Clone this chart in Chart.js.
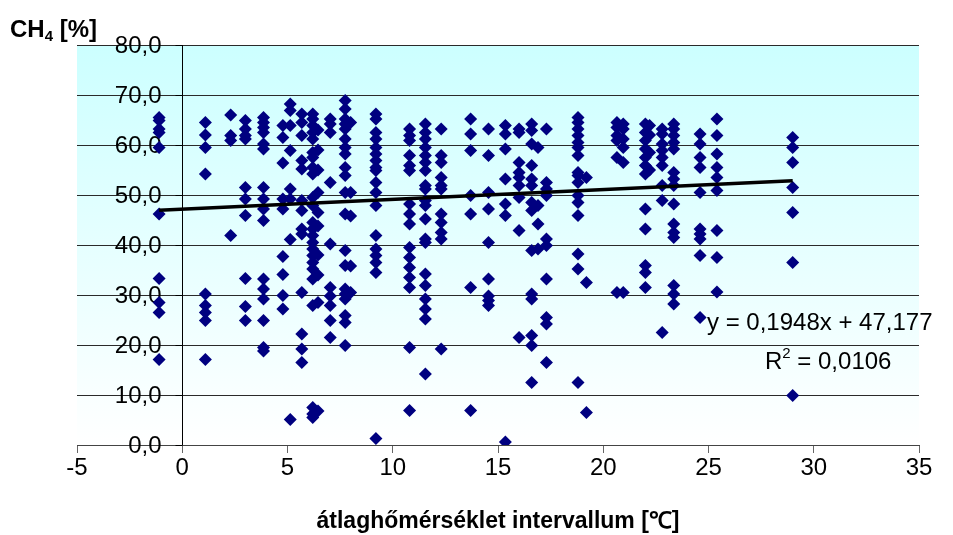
<!DOCTYPE html>
<html>
<head>
<meta charset="utf-8">
<script src="https://cdn.jsdelivr.net/npm/chart.js@4.4.1/dist/chart.umd.min.js"></script>
<style>
  html, body { margin: 0; padding: 0; background: #fff; }
  #wrap { width: 953px; height: 535px; }
</style>
</head>
<body>
<div id="wrap"><canvas id="ch4Chart" width="953" height="535"></canvas></div>
<script>
// temperature classes (x) and the CH4 readings measured in each class
const tempClasses = [-1.1, 1.1, 2.3, 3.0, 3.86, 4.78, 5.13, 5.68, 6.2, 6.45, 7.03, 7.74, 8.0,
  9.2, 10.8, 11.55, 12.3, 13.7, 14.55, 15.35, 16.0, 16.6, 16.9, 17.3, 18.8, 19.2,
  20.65, 20.95, 22.0, 22.2, 22.8, 23.35, 24.6, 25.4, 29.0];

const ch4Values = [
  [65.5, 64.9, 63.2, 62.5, 59.5, 46.2, 33.3, 28.5, 26.5, 17.1],
  [64.5, 62, 59.5, 54.2, 30.2, 27.9, 26.5, 24.9, 17.1],
  [66, 61.9, 60.9, 41.9],
  [64.9, 63.2, 61.9, 61.2, 51.5, 49.2, 45.9, 33.3, 27.7, 24.9],
  [65.5, 64.5, 63.5, 62.5, 60.2, 59.2, 51.5, 49.2, 47.2, 44.9, 33.2, 31.2, 29.2, 24.9, 19.5, 18.8],
  [63.9, 61.5, 56.4, 49.2, 47.2, 37.7, 34.1, 29.9, 27.2],
  [68.2, 66.9, 63.9, 58.9, 51.2, 49.2, 41.1, 5.1],
  [66.2, 64.5, 61.9, 56.9, 55.2, 48.9, 46.9, 43.2, 42.2, 30.5, 22.2, 19.2, 16.5],
  [66.2, 65.2, 63.9, 62.5, 61.2, 58.5, 57.5, 55.5, 54.2, 49.5, 47.9, 44.5, 43.2, 41.9, 40.5, 39.2, 37.9, 36.5, 35.2, 33.2, 27.9, 7.5, 6.2, 5.5],
  [63, 59, 55, 50.5, 46.5, 43.8, 38, 34, 28.5, 6.8],
  [65.2, 64.2, 62.5, 52.5, 40.2, 31.5, 29.8, 27.9, 24.9, 21.5],
  [68.9, 67.2, 65.2, 64.2, 63.2, 61.2, 59.5, 58.2, 55.5, 53.9, 50.5, 46.2, 38.9, 35.9, 31.2, 30.2, 29.2, 25.9, 24.5, 19.9],
  [64.5, 50.5, 45.8, 35.8, 30.5],
  [66.2, 65.2, 62.5, 61.2, 59.5, 58.2, 56.9, 55.5, 54.9, 52.5, 50.5, 47.9, 41.9, 39.2, 37.9, 36.5, 34.5, 1.3],
  [63.2, 61.9, 60.9, 57.9, 55.9, 54.9, 48.2, 46.2, 44.2, 39.5, 37.5, 35.5, 33.5, 31.5, 19.5, 6.9],
  [64.2, 62.5, 61.2, 59.5, 57.9, 56.5, 54.9, 51.9, 51.2, 48.9, 47.9, 45.2, 41.2, 40.5, 34.2, 31.9, 29.2, 27.2, 25.2, 14.2],
  [63.2, 57.9, 56.5, 53.5, 51.9, 51.2, 46.2, 44.5, 42.5, 41.2, 19.2],
  [65.2, 62.2, 58.9, 49.9, 46.2, 31.5, 6.9],
  [63.2, 57.9, 50.5, 47.2, 40.5, 33.2, 29.8, 28.9, 27.9],
  [63.9, 62.2, 59.2, 53.2, 48.2, 45.9, 0.6],
  [63.2, 62.5, 56.5, 54.5, 53.5, 51.9, 49.5, 42.9, 21.5],
  [64.2, 62.9, 60.2, 55.9, 53.2, 51.9, 48.5, 46.9, 38.9, 30.2, 29.2, 21.9, 19.9, 12.5],
  [59.5, 47.9, 44.2, 39.2],
  [63.2, 52.5, 51.2, 49.9, 41.2, 39.9, 33.2, 25.5, 24.2, 16.5],
  [65.5, 64.5, 63.2, 61.9, 60.5, 59.5, 57.9, 54.5, 53.9, 52.5, 49.9, 48.5, 45.9, 38.2, 35.2, 12.5],
  [53.5, 32.5, 6.5],
  [64.5, 63.5, 61.9, 60.9, 57.5, 30.5],
  [64.2, 63.2, 61.2, 59.5, 56.5, 30.5],
  [64.2, 62.5, 60.9, 59.2, 57.5, 55.9, 54.2, 47.2, 43.2, 35.9, 34.5, 31.5],
  [63.9, 62, 58.5, 55],
  [63.2, 62.2, 60.2, 58.9, 57.5, 55.9, 51.9, 48.9, 22.5],
  [64.2, 63.2, 61.9, 60.5, 59.2, 54.5, 53.2, 51.9, 48.2, 44.2, 42.5, 41.5, 31.9, 30.2, 28.2],
  [62.2, 60.2, 57.5, 55.5, 50.5, 43.2, 42.2, 41.2, 37.9, 25.5],
  [65.2, 61.9, 58.2, 55.5, 53.5, 50.9, 42.9, 37.5, 30.6],
  [61.5, 59.5, 56.5, 51.5, 46.5, 36.5, 9.9]
];

// linear trendline as printed on the chart
const trendSlope = 0.1948;
const trendIntercept = 47.177;
const trendRange = [-1.1, 29.0];

const xTicks = { min: -5, max: 35, step: 5 };
const yTicks = { min: 0, max: 80, step: 10 };

const points = [];
tempClasses.forEach(function (x, i) {
  ch4Values[i].forEach(function (y) { points.push({ x: x, y: y }); });
});
const trendPoints = trendRange.map(function (x) {
  return { x: x, y: trendSlope * x + trendIntercept };
});

const FONT = '"Liberation Sans", Arial, sans-serif';

// cyan -> white plot background
const plotBackground = {
  id: 'plotBackground',
  beforeDraw(chart) {
    const { ctx, chartArea: a } = chart;
    const g = ctx.createLinearGradient(0, a.top, 0, a.bottom);
    g.addColorStop(0, 'rgb(204,255,255)');
    g.addColorStop(1, 'rgb(255,255,255)');
    ctx.save();
    ctx.fillStyle = g;
    ctx.fillRect(a.left, a.top, a.right - a.left, a.bottom - a.top);
    ctx.restore();
  }
};

// y axis crosses at x = 0, labels right aligned next to it
const yAxisAtZero = {
  id: 'yAxisAtZero',
  beforeDatasetsDraw(chart) {
    const { ctx, chartArea: a, scales } = chart;
    const x0 = Math.round(scales.x.getPixelForValue(0)) + 0.5;
    ctx.save();
    ctx.strokeStyle = '#000';
    ctx.lineWidth = 1;
    ctx.beginPath();
    ctx.moveTo(x0, a.top);
    ctx.lineTo(x0, a.bottom);
    ctx.stroke();
    ctx.font = '24px ' + FONT;
    ctx.fillStyle = '#000';
    ctx.textAlign = 'right';
    ctx.textBaseline = 'middle';
    scales.y.ticks.forEach(function (t) {
      const py = Math.round(scales.y.getPixelForValue(t.value)) + 0.5;
      ctx.beginPath();
      ctx.moveTo(x0 - 7, py);
      ctx.lineTo(x0, py);
      ctx.stroke();
      ctx.fillText(t.value.toFixed(1).replace('.', ','), x0 - 21, py + 1);
    });
    ctx.restore();
  }
};

const annotations = {
  id: 'annotations',
  afterDraw(chart) {
    const ctx = chart.ctx;
    ctx.save();
    ctx.fillStyle = '#000';
    ctx.textBaseline = 'alphabetic';
    ctx.textAlign = 'left';
    // axis title top-left
    ctx.font = 'bold 24px ' + FONT;
    ctx.fillText('CH', 10, 37);
    let w = ctx.measureText('CH').width;
    ctx.font = 'bold 15px ' + FONT;
    ctx.fillText('4', 10 + w, 41);
    const w4 = ctx.measureText('4').width;
    ctx.font = 'bold 24px ' + FONT;
    ctx.fillText(' [%]', 10 + w + w4, 37);
    // regression equation
    ctx.font = '24px ' + FONT;
    ctx.fillText('y = 0,1948x + 47,177', 707, 330);
    ctx.fillText('R', 765, 369);
    w = ctx.measureText('R').width;
    ctx.font = '15px ' + FONT;
    ctx.fillText('2', 765 + w, 358);
    const w2 = ctx.measureText('2').width;
    ctx.font = '24px ' + FONT;
    ctx.fillText(' = 0,0106', 765 + w + w2, 369);
    ctx.restore();
  }
};

new Chart(document.getElementById('ch4Chart'), {
  type: 'scatter',
  data: {
    datasets: [
      {
        label: 'trend',
        type: 'line',
        data: trendPoints,
        borderColor: '#000',
        borderWidth: 3.5,
        pointRadius: 0,
        fill: false,
        order: 0
      },
      {
        label: 'CH4',
        data: points,
        pointStyle: 'rectRot',
        pointRadius: 6.5,
        backgroundColor: '#000080',
        borderColor: '#000080',
        borderWidth: 0,
        order: 1
      }
    ]
  },
  options: {
    responsive: false,
    animation: false,
    layout: { padding: { left: 77, right: 34, top: 45, bottom: 0 } },
    plugins: {
      legend: { display: false },
      tooltip: { enabled: false }
    },
    scales: {
      x: {
        type: 'linear',
        min: xTicks.min,
        max: xTicks.max,
        afterFit(scale) { scale.height = 90; },
        ticks: {
          stepSize: xTicks.step,
          color: '#000',
          padding: 1,
          font: { family: FONT, size: 24 },
          maxRotation: 0
        },
        grid: {
          drawOnChartArea: false,
          drawTicks: true,
          tickLength: 8,
          color: '#666'
        },
        border: { display: true, color: '#444', width: 1 },
        title: {
          display: true,
          text: 'átlaghőmérséklet intervallum [℃]',
          color: '#000',
          font: { family: FONT, size: 23, weight: 'bold' },
          padding: { top: 0, bottom: 0 }
        }
      },
      y: {
        type: 'linear',
        min: yTicks.min,
        max: yTicks.max,
        afterFit(scale) { scale.width = 0; },
        ticks: { stepSize: yTicks.step, display: false },
        grid: { color: '#2a2a2a', drawTicks: false, lineWidth: 1 },
        border: { display: false }
      }
    }
  },
  plugins: [plotBackground, yAxisAtZero, annotations]
});
</script>
</body>
</html>
